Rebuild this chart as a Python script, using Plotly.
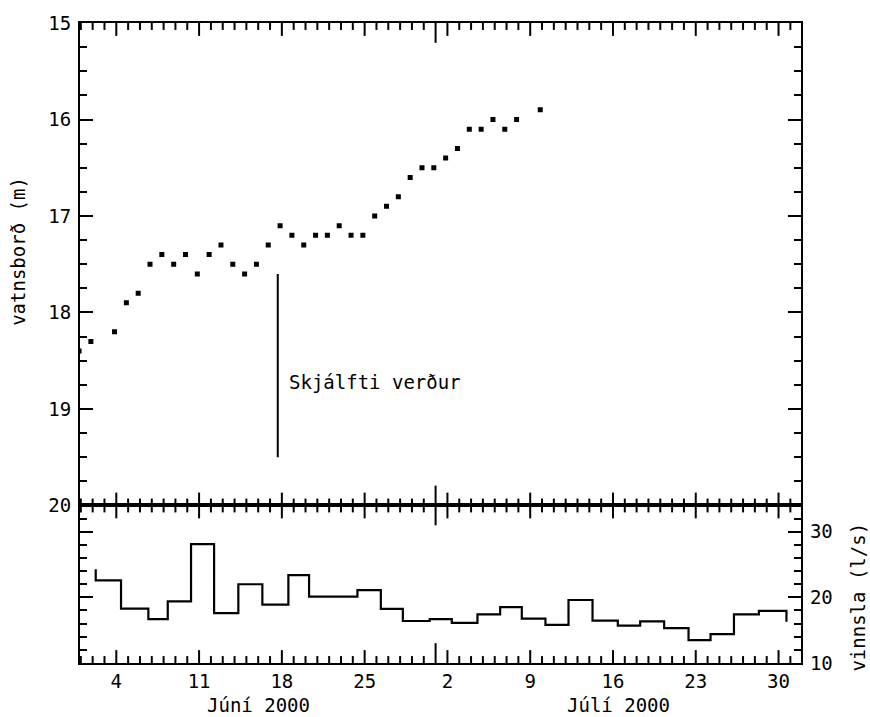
import math
import plotly.graph_objects as go

# ---------------- data ----------------
# water level measurements: day number counted from 1 June 2000 (July 1 = 31)
DOT_DAYS = [1, 2, 4, 5, 6, 7, 8, 9, 10, 11, 12, 13, 14, 15, 16, 17, 18, 19, 20,
            21, 22, 23, 24, 25, 26, 27, 28, 29, 30, 31, 32, 33, 34, 35, 36, 37, 38, 40]
READ_OFFSET = -0.15  # time of the reading relative to the day tick
WATER_LEVEL = [18.4, 18.3, 18.2, 17.9, 17.8, 17.5, 17.4, 17.5, 17.4, 17.6, 17.4, 17.3,
               17.5, 17.6, 17.5, 17.3, 17.1, 17.2, 17.3, 17.2, 17.2, 17.1, 17.2, 17.2,
               17.0, 16.9, 16.8, 16.6, 16.5, 16.5, 16.4, 16.3, 16.1, 16.1, 16.0, 16.1,
               16.0, 15.9]

# pumping (l/s): reading times (days) and mean rate between readings
PUMP_READINGS = [2.26, 4.40, 6.71, 8.35, 10.32, 12.27, 14.32, 16.35, 18.55, 20.30,
                 24.39, 26.37, 28.23, 30.50, 32.37, 34.54, 36.46, 38.29, 40.29, 42.24,
                 44.27, 46.41, 48.30, 50.33, 52.39, 54.25, 56.23, 58.34, 60.67]
PUMP_START = 24.3
PUMP_RATE = [22.6, 18.3, 16.7, 19.4, 28.1, 17.6, 22.0, 18.9, 23.4, 20.1,
             21.1, 18.25, 16.4, 16.7, 16.1, 17.4, 18.5, 16.75, 15.8, 19.6,
             16.45, 15.7, 16.35, 15.3, 13.5, 14.4, 17.4, 17.95]
PUMP_END = 16.3

# earthquake 17 June 2000 15:40
QUAKE_DAY = 17 + 15.67 / 24
QUAKE_LEVELS = [17.6, 19.5]
QUAKE_TEXT = "Skjálfti verður"

X_TICK_VALS = [4, 11, 18, 25, 32, 39, 46, 53, 60]
X_TICK_TEXT = ["4", "11", "18", "25", "2", "9", "16", "23", "30"]
MONTH_START = [1, 31, 62]
MONTH_NAMES = ["Júní 2000", "Júlí 2000"]
X_RANGE = [0.93, 61.9]
LEVEL_RANGE = [20, 15]
PUMP_RANGE = [10, 34]

# ---------------- figure ----------------
FONT = "DejaVu Sans Mono"
black = "#000000"

fig = go.Figure()

fig.add_trace(go.Scatter(
    x=[d + READ_OFFSET for d in DOT_DAYS], y=WATER_LEVEL, mode="markers",
    marker=dict(symbol="square", size=5, color=black),
    xaxis="x", yaxis="y", showlegend=False))

fig.add_trace(go.Scatter(
    x=[QUAKE_DAY, QUAKE_DAY], y=QUAKE_LEVELS, mode="lines",
    line=dict(color=black, width=2), xaxis="x", yaxis="y", showlegend=False))

fig.add_trace(go.Scatter(
    x=PUMP_READINGS + [PUMP_READINGS[-1]], y=[PUMP_START] + PUMP_RATE + [PUMP_END],
    mode="lines", line=dict(color=black, width=2.2, shape="vh"),
    xaxis="x2", yaxis="y2", showlegend=False))

TOP_PX, BOT_PX = 487.0, 159.0
split = BOT_PX / (TOP_PX + BOT_PX)

tickfont = dict(family=FONT, size=19, color=black)

common_x = dict(range=X_RANGE, tickmode="array", tickvals=X_TICK_VALS, ticktext=X_TICK_TEXT,
                ticks="", showline=True, linecolor=black, linewidth=2.2, mirror=True,
                showgrid=False, zeroline=False, tickfont=tickfont)

fig.update_layout(
    width=870, height=717,
    margin=dict(l=80, r=69, t=17, b=54),
    paper_bgcolor="white", plot_bgcolor="white",
    font=dict(family=FONT, color=black),
    xaxis=dict(anchor="y", showticklabels=False, **common_x),
    xaxis2=dict(anchor="y2", showticklabels=True, ticklabelstandoff=0, **common_x),
    yaxis=dict(anchor="x", domain=[split, 1], range=LEVEL_RANGE, dtick=1, tick0=15,
               ticks="inside", ticklen=13, tickwidth=1.8, tickcolor=black,
               showline=True, linecolor=black, linewidth=2.2, mirror="ticks",
               showgrid=False, zeroline=False, tickfont=tickfont, ticklabelstandoff=3,
               minor=dict(ticks="inside", ticklen=7, tickwidth=1.6, tickcolor=black,
                          dtick=0.25, tick0=15)),
    yaxis2=dict(anchor="x2", domain=[0, split], range=PUMP_RANGE, dtick=10, tick0=10,
                side="right", ticks="inside", ticklen=13, tickwidth=1.8, tickcolor=black,
                showline=True, linecolor=black, linewidth=2.2, mirror="ticks",
                showgrid=False, zeroline=False, tickfont=tickfont, ticklabelstandoff=3,
                minor=dict(ticks="inside", ticklen=7, tickwidth=1.6, tickcolor=black,
                           dtick=2, tick0=10)),
)

# daily time-axis ticks drawn inward on all four horizontal frame edges
MAJOR_LEN, MINOR_LEN, LONG_LEN = 13.0, 7.0, 20.0
edges = [("y domain", 1, -1, TOP_PX), ("y domain", 0, 1, TOP_PX),
         ("y2 domain", 1, -1, BOT_PX), ("y2 domain", 0, 1, BOT_PX)]
for d in range(math.ceil(X_RANGE[0]), math.floor(X_RANGE[1]) + 1):
    if d in MONTH_START[1:-1]:
        length = LONG_LEN
    elif d in X_TICK_VALS:
        length = MAJOR_LEN
    else:
        length = MINOR_LEN
    for (yref, base, sign, px) in edges:
        fig.add_shape(type="line", xref="x", yref=yref, x0=d, x1=d,
                      y0=base, y1=base + sign * length / px,
                      line=dict(color=black, width=2), layer="above")

# month labels
for i, name in enumerate(MONTH_NAMES):
    fig.add_annotation(x=(MONTH_START[i] + MONTH_START[i + 1]) / 2, xref="x2",
                       y=-42.0 / 646, yref="paper", text=name, showarrow=False,
                       xanchor="center", yanchor="middle",
                       font=dict(family=FONT, size=19, color=black))

# quake label
fig.add_annotation(x=QUAKE_DAY + 0.75, y=18.72, xref="x", yref="y", text=QUAKE_TEXT,
                   showarrow=False, xanchor="left", yanchor="middle",
                   font=dict(family=FONT, size=19, color=black))

# axis titles
fig.add_annotation(x=(18 - 80) / 721.0, y=(663 - 248) / 646.0, xref="paper", yref="paper",
                   text="vatnsborð (m)", textangle=-90, showarrow=False,
                   xanchor="center", yanchor="middle",
                   font=dict(family=FONT, size=19, color=black))
fig.add_annotation(x=(858 - 80) / 721.0, y=(663 - 597) / 646.0, xref="paper", yref="paper",
                   text="vinnsla (l/s)", textangle=-90, showarrow=False,
                   xanchor="center", yanchor="middle",
                   font=dict(family=FONT, size=19, color=black))

fig.write_html("out.html")
